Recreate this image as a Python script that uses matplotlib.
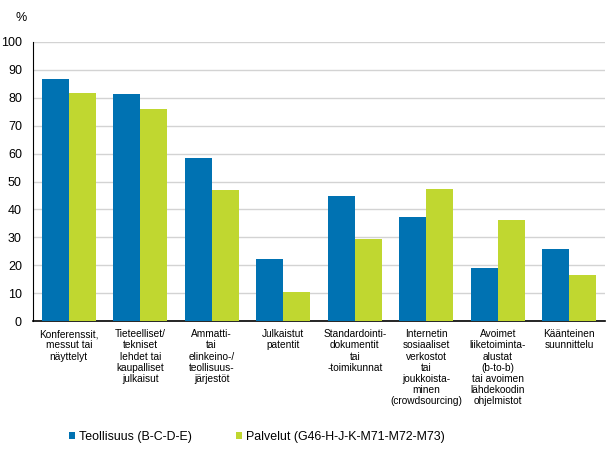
import matplotlib
matplotlib.use("Agg")
import matplotlib.pyplot as plt
import numpy as np

plt.rcParams['font.family'] = ['Liberation Sans', 'DejaVu Sans']

categories = [
    "Konferenssit,\nmessut tai\nnäyttelyt",
    "Tieteelliset/\ntekniset\nlehdet tai\nkaupalliset\njulkaisut",
    "Ammatti-\ntai\nelinkeino-/\nteollisuus-\njärjestöt",
    "Julkaistut\npatentit",
    "Standardointi-\ndokumentit\ntai\n-toimikunnat",
    "Internetin\nsosiaaliset\nverkostot\ntai\njoukkoista-\nminen\n(crowdsourcing)",
    "Avoimet\nliiketoiminta-\nalustat\n(b-to-b)\ntai avoimen\nlähdekoodin\nohjelmistot",
    "Käänteinen\nsuunnittelu",
]
teollisuus = [86.8, 81.5, 58.5, 22.2, 44.9, 37.3, 19.0, 25.8]
palvelut = [81.8, 76.1, 47.0, 10.4, 29.5, 47.4, 36.2, 16.5]
series_names = ["Teollisuus (B-C-D-E)", "Palvelut (G46-H-J-K-M71-M72-M73)"]
colors = ["#0072b2", "#c0d730"]
yticks = list(range(0, 101, 10))

fig = plt.figure(figsize=(6.06, 4.54), dpi=100)
ax = fig.add_axes([33/606, 1-321/454, 572/606, 279/454])

x = np.arange(len(categories))
w = 0.375
b1 = ax.bar(x - w/2, teollisuus, w, color=colors[0], label=series_names[0], zorder=3)
b2 = ax.bar(x + w/2, palvelut, w, color=colors[1], label=series_names[1], zorder=3)

ax.set_xlim(-0.5, len(categories) - 0.5)
ax.set_ylim(0, 100)
ax.set_yticks(yticks)
ax.set_yticklabels([str(v) for v in yticks], fontsize=9)
ax.yaxis.grid(True, color="#d3d3d3", linewidth=1, zorder=0)
ax.set_axisbelow(True)
ax.tick_params(axis='y', length=0, pad=8)
ax.tick_params(axis='x', length=0, pad=6)
ax.set_xticks(x)
ax.set_xticklabels(categories, fontsize=7.3, linespacing=1.14, va='top')
for s in ["top", "right"]:
    ax.spines[s].set_visible(False)
ax.spines["left"].set_color("black")
ax.spines["bottom"].set_color("black")
ax.spines["bottom"].set_linewidth(1.2)

fig.text(15/606, 1-18/454, "%", fontsize=9, ha='left', va='center')

fig.legend(handles=[b1, b2], labels=series_names, loc='center',
           bbox_to_anchor=(257/606, 1-437/454),
           ncol=2, frameon=False, fontsize=8.9, handlelength=0.5, handleheight=0.5,
           handletextpad=0.3, columnspacing=3.6)

fig.savefig("out.png", dpi=100)
